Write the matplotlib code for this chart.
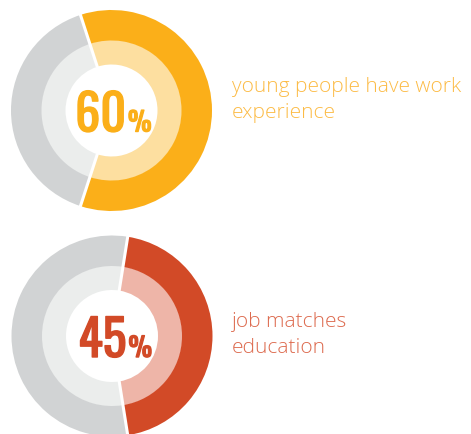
import numpy as np
import matplotlib
matplotlib.use('Agg')
import matplotlib.pyplot as plt
import matplotlib.patheffects as pe

# values
pct = [60, 45]
labels = [['young people have work', 'experience'], ['job matches', 'education']]
main_colors = ['#FBAF19', '#D24A27']
light_colors = ['#FDDFA0', '#EEB5A8']
text_colors = ['#FCBB45', '#DD6A4E']
gray_out = '#D1D3D4'
gray_in = '#EBEDEC'

NUM_FONT = ['Oswald', 'Bebas Neue', 'Roboto Condensed', 'DejaVu Sans']

W, H = 471, 434
fig = plt.figure(figsize=(W / 100, H / 100), dpi=100)
ax = fig.add_axes([0, 0, 1, 1])

centers = [(111.5, H - 110.5), (112, H - 336)]
label_base = [(H - 92, H - 118), (H - 327, H - 353)]
R_OUT, R_MID, R_IN = 100.5, 70, 46

for i, p in enumerate(pct):
    vals = [p, 100 - p]
    # coloured part centred on the right side
    start = 90 + (p * 3.6 - 180) / 2
    cx, cy = centers[i]
    ax.pie(vals, radius=R_MID + 0.5, center=(cx, cy), startangle=start, counterclock=False,
           colors=[light_colors[i], gray_in],
           wedgeprops=dict(width=R_MID + 0.5 - R_IN, linewidth=0))
    ax.pie(vals, radius=R_OUT, center=(cx, cy), startangle=start, counterclock=False,
           colors=[main_colors[i], gray_out],
           wedgeprops=dict(width=R_OUT - R_MID, linewidth=0))
    # white separators between the two parts
    for a in [start, start - p * 3.6]:
        t = np.radians(a)
        ax.plot([cx + (R_IN - 1) * np.cos(t), cx + (R_OUT + 1) * np.cos(t)],
                [cy + (R_IN - 1) * np.sin(t), cy + (R_OUT + 1) * np.sin(t)],
                color='white', lw=2.2, solid_capstyle='butt')
    bold = [pe.withStroke(linewidth=1.0, foreground=main_colors[i])]
    ax.text(cx + 14.5, cy - 21, str(p), ha='right', va='baseline', fontsize=36,
            color=main_colors[i], family=NUM_FONT, fontweight='bold', path_effects=bold)
    ax.text(cx + 16.5, cy - 21, '%', ha='left', va='baseline', fontsize=19,
            color=main_colors[i], family=NUM_FONT, fontweight='bold', path_effects=bold)
    for line, yb in zip(labels[i], label_base[i]):
        ax.text(232, yb, line, ha='left', va='baseline', fontsize=15,
                color=text_colors[i], family='Open Sans', fontweight='light')

ax.set_xlim(0, W)
ax.set_ylim(0, H)
ax.set_aspect('equal')
ax.axis('off')

fig.savefig('out.png', dpi=100)
